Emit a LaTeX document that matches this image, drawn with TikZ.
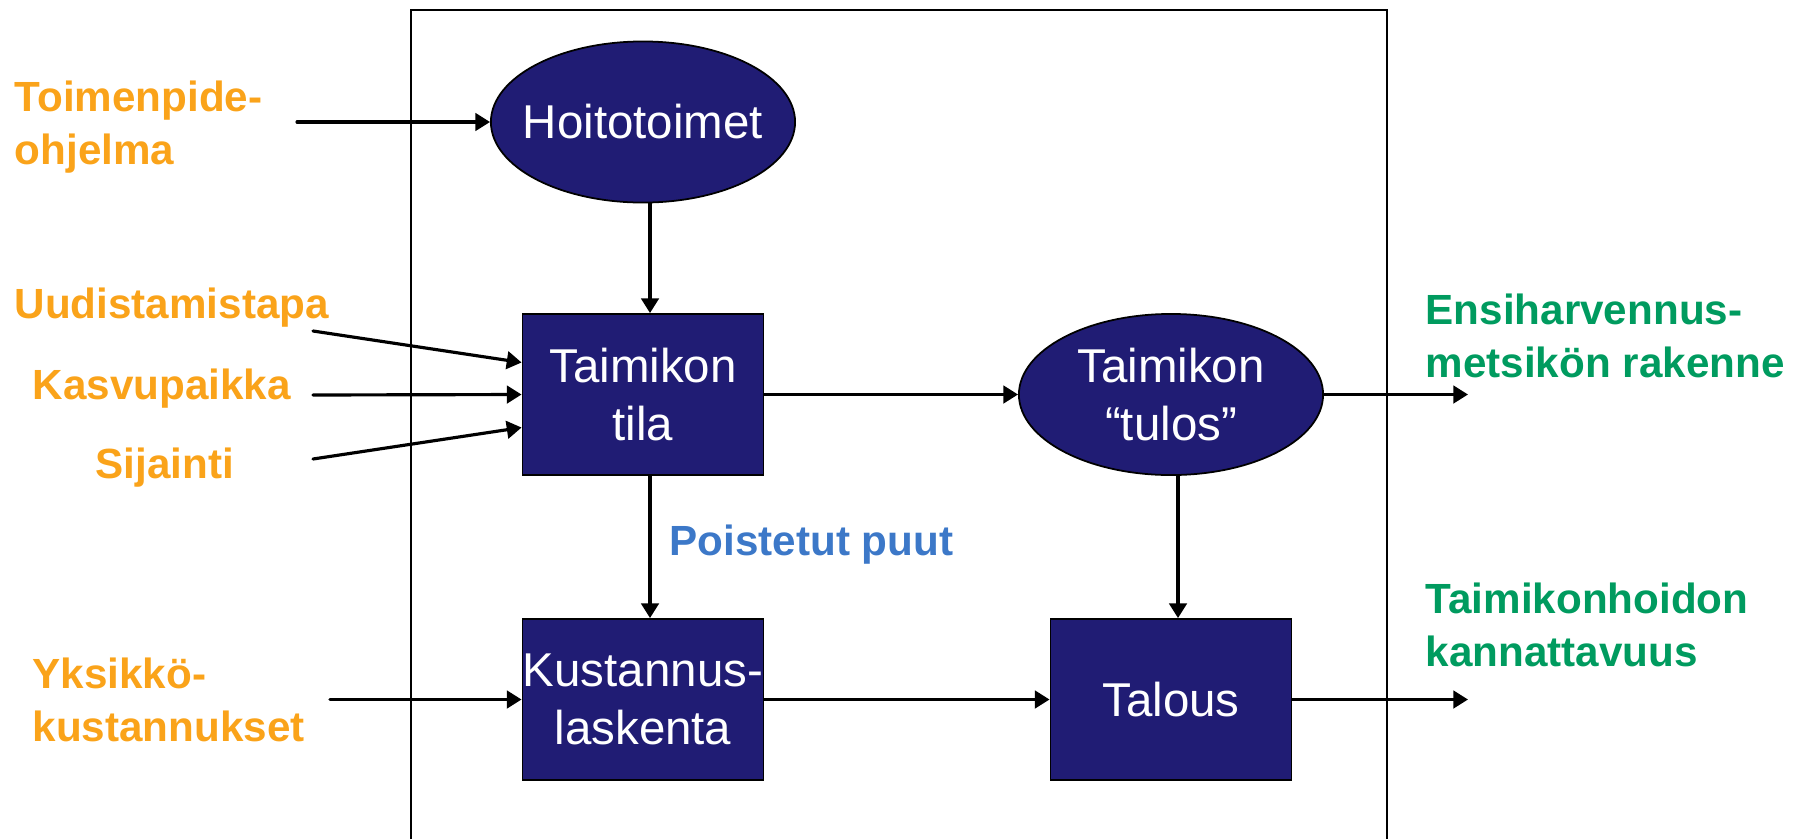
\documentclass[tikz,border=0pt]{standalone}
\usepackage{fontspec}
\setmainfont{Liberation Sans}
\usetikzlibrary{arrows.meta,shapes.geometric}
\definecolor{laivasto}{RGB}{32,28,116}
\definecolor{oranssi}{RGB}{250,163,26}
\definecolor{vihrea}{RGB}{0,155,95}
\definecolor{sininen}{RGB}{60,120,200}
\tikzset{
  lohko/.style={draw=black, line width=0.5pt, fill=laivasto, text=white, inner sep=0pt,
    font=\fontsize{13.5}{16.5}\selectfont, align=center},
  laatikko/.style={lohko, rectangle, minimum width=2.41cm, minimum height=1.61cm},
  soikio/.style={lohko, ellipse, minimum width=3.04cm, minimum height=1.61cm},
  nuoli/.style={-{Triangle[length=4.2pt,width=5pt]}, line width=0.9pt, line cap=round},
  syottoteksti/.style={text=oranssi, inner sep=0pt, font=\bfseries\fontsize{12}{15}\selectfont},
  tulosteksti/.style={syottoteksti, text=vihrea}
}
\begin{document}
\begin{tikzpicture}[x=0.01cm, y=-0.01cm]
  \useasboundingbox (0,0) rectangle (1809,839);
  \draw[line width=0.4pt] (411,839) -- (411,10) -- (1387,10) -- (1387,839);
  % mallin osat
  \node[soikio, inner xsep=-0.15cm] (hoito) at (643,122) {Hoitotoimet};
  \node[laatikko] (tila) at (643,394.5) {Taimikon\\tila};
  \node[soikio] (tulos) at (1171,394.5) {Taimikon\\“tulos”};
  \node[laatikko] (kust) at (643,699.5) {Kustannus-\\laskenta};
  \node[laatikko] (talous) at (1171,699.5) {Talous};
  % syotteet ja tulokset
  \node[syottoteksti, align=left, anchor=north west] (toimenpide) at (14,80) {Toimenpide-\\ohjelma};
  \node[syottoteksti, anchor=base west] (uud) at (14,318) {Uudistamistapa};
  \node[syottoteksti, anchor=base west] (kasvu) at (32,399) {Kasvupaikka};
  \node[syottoteksti, anchor=base west] (sij) at (95,478) {Sijainti};
  \node[syottoteksti, align=left, anchor=north west] (yks) at (32,657) {Yksikkö-\\kustannukset};
  \node[syottoteksti, text=sininen, anchor=base west] (poist) at (669,555) {Poistetut puut};
  \node[tulosteksti, align=left, anchor=north west] (ensi) at (1425,293) {Ensiharvennus-\\metsikön rakenne};
  \node[tulosteksti, align=left, anchor=north west] (kann) at (1425,582) {Taimikonhoidon\\kannattavuus};
  % nuolet
  \coordinate (tulo-t) at (297,122);
  \draw[nuoli] (tulo-t) -- (hoito);
  \foreach \n/\y/\dy in {u/331/0.32cm, k/395/0cm, s/459/-0.33cm} {
    \coordinate (tulo-\n) at (313,\y);
    \draw[nuoli] (tulo-\n) -- ([yshift=\dy]tila.west);
  }
  \draw[nuoli] ([xshift=0.07cm]hoito.south) -- ([xshift=0.07cm]tila.north);
  \draw[nuoli] (tila) -- (tulos);
  \coordinate (ulos-1) at (1468,394.5);
  \draw[nuoli] (tulos) -- (ulos-1);
  \draw[nuoli] ([xshift=0.07cm]tila.south) -- ([xshift=0.07cm]kust.north);
  \draw[nuoli] ([xshift=0.07cm]tulos.south) -- ([xshift=0.07cm]talous.north);
  \coordinate (tulo-y) at (330,699.5);
  \draw[nuoli] (tulo-y) -- (kust);
  \draw[nuoli] (kust) -- (talous);
  \coordinate (ulos-2) at (1468,699.5);
  \draw[nuoli] (talous) -- (ulos-2);
\end{tikzpicture}
\end{document}
